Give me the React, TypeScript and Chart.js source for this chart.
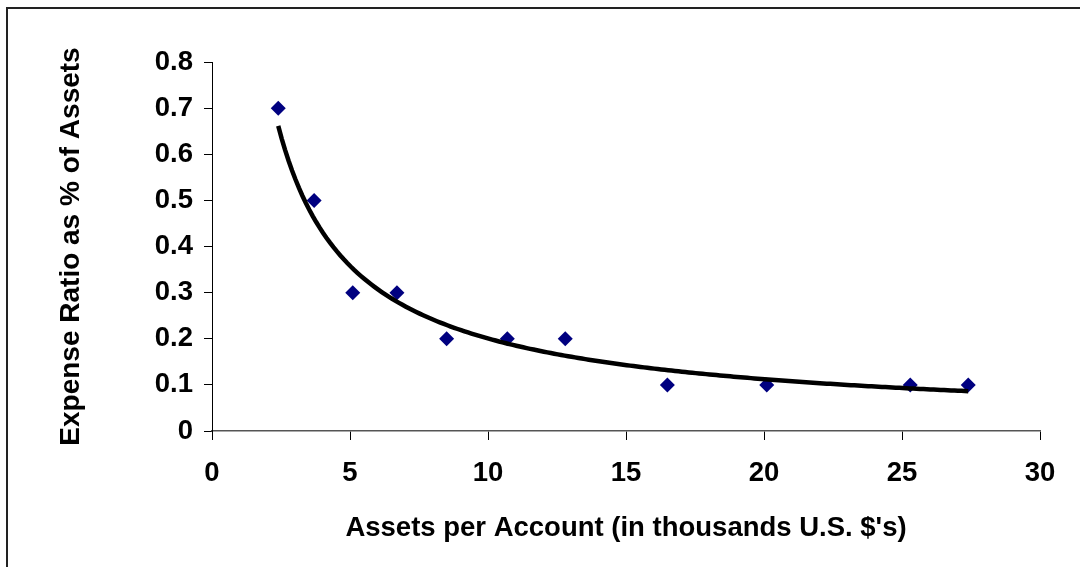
import React, { useEffect, useRef } from "react";
import { Chart, registerables } from "chart.js";

Chart.register(...registerables);

const assetsPerAccount = [2.4, 3.7, 5.1, 6.7, 8.5, 10.7, 12.8, 16.5, 20.1, 25.3, 27.4];
const expenseRatio = [0.7, 0.5, 0.3, 0.3, 0.2, 0.2, 0.2, 0.1, 0.1, 0.1, 0.1];
const xTicks = [0, 5, 10, 15, 20, 25, 30];
const yTicks = [0, 0.1, 0.2, 0.3, 0.4, 0.5, 0.6, 0.7, 0.8];
const xTitle = "Assets per Account (in thousands U.S. $'s)";
const yTitle = "Expense Ratio as % of Assets";

// Power trendline (least squares on ln x, ln y), like a spreadsheet power fit
function powerTrend(xs: number[], ys: number[], steps: number) {
  const lx = xs.map(Math.log);
  const ly = ys.map(Math.log);
  const n = xs.length;
  const mx = lx.reduce((a, b) => a + b, 0) / n;
  const my = ly.reduce((a, b) => a + b, 0) / n;
  let sxy = 0, sxx = 0;
  for (let i = 0; i < n; i++) {
    sxy += (lx[i] - mx) * (ly[i] - my);
    sxx += (lx[i] - mx) * (lx[i] - mx);
  }
  const b = sxy / sxx;
  const a = Math.exp(my - b * mx);
  const xmin = Math.min(...xs), xmax = Math.max(...xs);
  const pts: { x: number; y: number }[] = [];
  for (let i = 0; i <= steps; i++) {
    const x = xmin + ((xmax - xmin) * i) / steps;
    pts.push({ x, y: a * Math.pow(x, b) });
  }
  return pts;
}

export default function App() {
  const ref = useRef<HTMLCanvasElement>(null);
  useEffect(() => {
    document.body.style.margin = "0";
    const family = "'Liberation Sans', Arial, sans-serif";
    const font = { family, size: 27.5, weight: "bold" as const };
    const yTitleFont = { family, size: 28, weight: "bold" as const };
    const chart = new Chart(ref.current!, {
      type: "scatter",
      data: {
        datasets: [
          {
            label: "Trend",
            data: powerTrend(assetsPerAccount, expenseRatio, 200),
            showLine: true,
            borderColor: "#000000",
            borderWidth: 4.5,
            pointRadius: 0,
            tension: 0,
            order: 0,
          },
          {
            label: "Expense ratio",
            data: assetsPerAccount.map((x, i) => ({ x, y: expenseRatio[i] })),
            pointStyle: "rectRot",
            pointRadius: 7.5,
            backgroundColor: "#000080",
            borderColor: "#000080",
            borderWidth: 0,
            order: 1,
          },
        ],
      },
      options: {
        animation: false,
        responsive: false,
        layout: { padding: { left: 0, top: 62, right: 40, bottom: 0 } },
        plugins: { legend: { display: false }, tooltip: { enabled: false } },
        scales: {
          x: {
            type: "linear",
            min: 0,
            max: 30,
            afterBuildTicks: (s: any) => {
              s.ticks = xTicks.map((v) => ({ value: v }));
            },
            afterFit: (s: any) => {
              s.height = 136;
            },
            ticks: { color: "#000", font, padding: 17 },
            grid: { drawOnChartArea: false, drawTicks: true, tickLength: 9, color: "#000" },
            border: { color: "#555", width: 1.5 },
            title: { display: true, text: xTitle, color: "#000", font, padding: { top: 0, bottom: 22 } },
          },
          y: {
            type: "linear",
            min: 0,
            max: 0.8,
            afterBuildTicks: (s: any) => {
              s.ticks = yTicks.map((v) => ({ value: v }));
            },
            afterFit: (s: any) => {
              s.width = 212;
            },
            ticks: { color: "#000", font, padding: 11, callback: (v: any) => String(Math.round(v * 10) / 10) },
            grid: { drawOnChartArea: false, drawTicks: true, tickLength: 8, color: "#000" },
            border: { color: "#000", width: 1 },
            title: { display: true, text: yTitle, color: "#000", font: yTitleFont, padding: { top: 54, bottom: 0 } },
          },
        },
      },
    });
    return () => chart.destroy();
  }, []);
  return (
    <div style={{ position: "relative", width: 1080, height: 567, background: "#fff" }}>
      <canvas ref={ref} width={1080} height={567} style={{ position: "absolute", left: 0, top: 0 }} />
      <div
        style={{
          position: "absolute",
          left: 6,
          top: 7,
          right: 0,
          bottom: 0,
          borderTop: "2px solid #222",
          borderLeft: "2px solid #222",
          pointerEvents: "none",
        }}
      />
    </div>
  );
}
